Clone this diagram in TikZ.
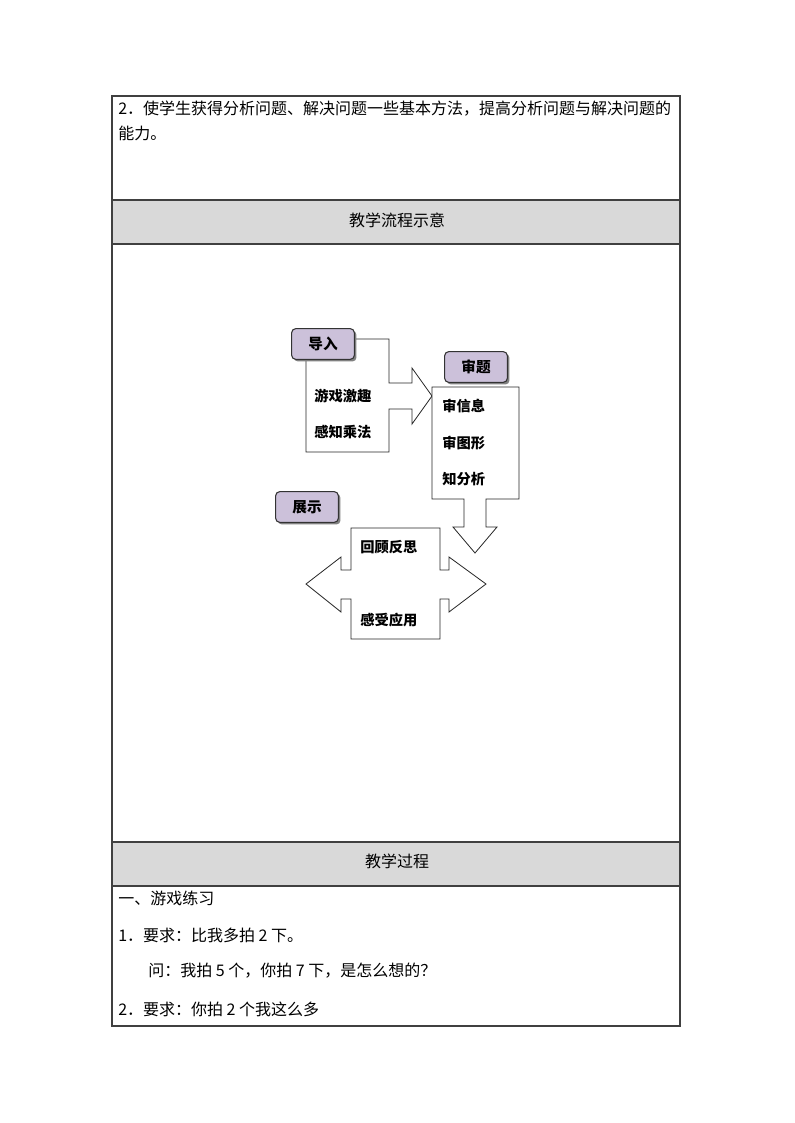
\documentclass[tikz,border=0pt]{standalone}
\usepackage{fontspec}
\setmainfont{Noto Sans CJK SC}
\usetikzlibrary{shadows}
\definecolor{hdrgray}{HTML}{D9D9D9}
\definecolor{tagfill}{HTML}{CCC1DA}
\begin{document}
\begin{tikzpicture}[x=0.75pt,y=-0.75pt,
  tag/.style={draw=black!80, fill=tagfill, rounded corners=3pt, line width=0.8pt,
    minimum width=47pt, minimum height=23pt, inner sep=0pt,
    font=\bfseries\fontsize{11}{13}\selectfont,
    drop shadow={shadow xshift=1.6pt, shadow yshift=-1.6pt, fill=black!50, opacity=1}},
  lbl/.style={anchor=west, inner sep=0pt, font=\bfseries\fontsize{10.7}{12}\selectfont},
  txt/.style={anchor=west, inner sep=0pt, font=\fontsize{12}{14}\selectfont},
  hdr/.style={inner sep=0pt, font=\fontsize{12}{14}\selectfont},
  blockarrow/.style={draw=black!85, fill=white, line width=0.6pt},
  grid/.style={draw=black!75, line width=0.8pt}]
\useasboundingbox (0,0) rectangle (794,1123);
\fill[hdrgray] (112,200) rectangle (680,244);
\fill[hdrgray] (112,842) rectangle (680,886);
\draw[grid] (112,96) rectangle (680,1026);
\draw[grid] (112,200) -- (680,200);
\draw[grid] (112,244) -- (680,244);
\draw[grid] (112,842) -- (680,842);
\draw[grid] (112,886) -- (680,886);
\node[txt] (ln0) at (118,109){2．使学生获得分析问题、解决问题一些基本方法，提高分析问题与解决问题的};
\node[txt] (ln1) at (118,133){能力。};
\node[hdr] (hd0) at (397,220){教学流程示意};
\draw[blockarrow] (306,339) -- (389,339) -- (389,383) -- (412,383) -- (412,368) -- (432,396)
  -- (412,424) -- (412,409) -- (389,409) -- (389,452) -- (306,452) -- cycle;
\draw[blockarrow] (432,387) -- (519,387) -- (519,499) -- (486,499) -- (486,527) -- (497,527)
  -- (475,553) -- (453,527) -- (464,527) -- (464,499) -- (432,499) -- cycle;
\draw[blockarrow] (351,528) -- (440,528) -- (440,570) -- (449,570) -- (449,557) -- (486,584)
  -- (449,612) -- (449,599) -- (440,599) -- (440,639) -- (351,639) -- (351,599) -- (341,599)
  -- (341,612) -- (306,584) -- (341,557) -- (341,570) -- (351,570) -- cycle;
\node[tag] (tg0) at (323,344){导入};
\node[tag] (tg1) at (476,367){审题};
\node[tag] (tg2) at (307,507){展示};
\node[lbl] (lb0) at (314,396){游戏激趣};
\node[lbl] (lb1) at (314,432){感知乘法};
\node[lbl] (lb2) at (442,406){审信息};
\node[lbl] (lb3) at (442,443){审图形};
\node[lbl] (lb4) at (442,479){知分析};
\node[lbl] (lb5) at (360,547){回顾反思};
\node[lbl] (lb6) at (360,620){感受应用};
\node[hdr] (hd1) at (397,861){教学过程};
\node[txt] (ln2) at (118,898){一、游戏练习};
\node[txt] (ln3) at (118,935){1．要求：比我多拍 2 下。};
\node[txt] (ln4) at (148,971){问：我拍 5 个，你拍 7 下，是怎么想的？};
\node[txt] (ln5) at (118,1009){2．要求：你拍 2 个我这么多};
\end{tikzpicture}
\end{document}
